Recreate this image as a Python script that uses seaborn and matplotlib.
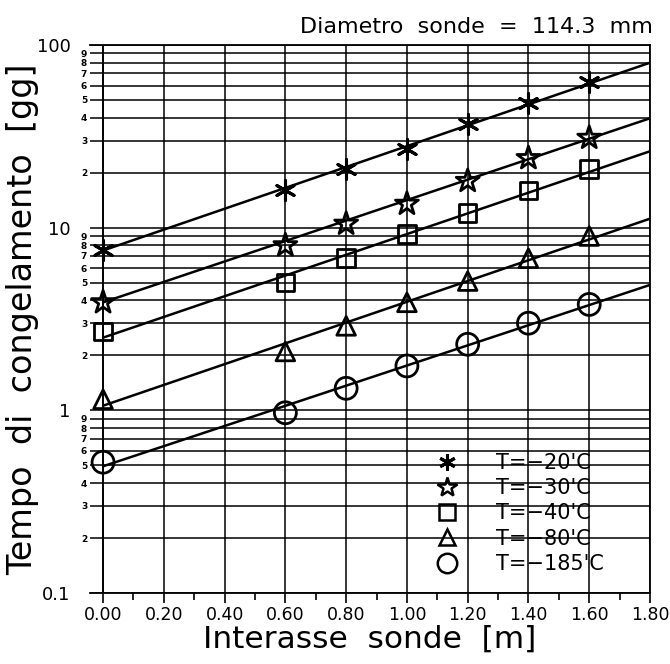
import numpy as np
import pandas as pd
import matplotlib
matplotlib.use("Agg")
import matplotlib.pyplot as plt
import seaborn as sns
from matplotlib.lines import Line2D
from matplotlib.ticker import FixedLocator, FuncFormatter

# ---- data ----
x_points = [0.0, 0.6, 0.8, 1.0, 1.2, 1.4, 1.6]
labels = ["T=\u221220'C", "T=\u221230'C", "T=\u221240'C", "T=\u221280'C", "T=\u2212185'C"]
y_m20 = [7.5, 16.0, 21.0, 27.0, 37.0, 48.0, 63.0]
y_m30 = [3.9, 8.0, 10.5, 13.5, 18.0, 24.0, 31.0]
y_m40 = [2.7, 5.0, 6.8, 9.2, 12.0, 16.0, 21.0]
y_m80 = [1.15, 2.1, 2.9, 3.9, 5.1, 6.8, 9.0]
y_m185 = [0.52, 0.97, 1.32, 1.75, 2.3, 3.0, 3.8]
# fitted straight lines (end points)
line_x = [0.0, 1.8]
line_m20 = [7.5, 80.0]
line_m30 = [3.9, 39.7]
line_m40 = [2.5, 26.2]
line_m80 = [1.06, 11.2]
line_m185 = [0.494, 4.86]
x_ticks = [0.0, 0.2, 0.4, 0.6, 0.8, 1.0, 1.2, 1.4, 1.6, 1.8]
y_major = [0.1, 1, 10, 100]
y_major_labels = ["0.1", "1", "10", "100"]

series_y = [y_m20, y_m30, y_m40, y_m80, y_m185]
series_line = [line_m20, line_m30, line_m40, line_m80, line_m185]
markers = [(6, 2, 0), "*", "s", "^", "o"]
sizes = [200, 300, 160, 180, 250]
leg_sizes = [12, 15, 11, 12, 14]

sns.set_style("white")
plt.rcParams["font.family"] = ["DejaVu Sans"]
plt.rcParams["text.color"] = "black"
plt.rcParams["axes.labelcolor"] = "black"
plt.rcParams["xtick.color"] = "black"
plt.rcParams["ytick.color"] = "black"

fig = plt.figure(figsize=(6.7, 6.64), dpi=100)
ax = fig.add_axes([90 / 670, 1 - 593 / 664, 560 / 670, 548 / 664])

for yv, lv, lab, mk, sz in zip(series_y, series_line, labels, markers, sizes):
    df_l = pd.DataFrame({"x": line_x, "y": lv})
    sns.lineplot(data=df_l, x="x", y="y", ax=ax, color="black", lw=1.8, zorder=3)
    df = pd.DataFrame({"x": x_points, "y": yv})
    if mk == (6, 2, 0):
        sns.scatterplot(data=df, x="x", y="y", ax=ax, marker=mk, s=sz,
                        color="black", edgecolor="black", linewidth=2.2, zorder=4)
    else:
        sns.scatterplot(data=df, x="x", y="y", ax=ax, marker=mk, s=sz,
                        facecolor="none", edgecolor="black", linewidth=2.0, zorder=4)

ax.set_yscale("log")
ax.set_xlim(-0.043, 1.8)
ax.set_ylim(0.1, 100)

ax.set_xticks(x_ticks)
ax.set_xticklabels([f"{v:.2f}" for v in x_ticks], fontsize=12.5)
ax.xaxis.set_minor_locator(FixedLocator(np.arange(0.1, 1.8, 0.2)))
ax.tick_params(axis="x", which="major", direction="out", length=7, width=1.2,
               color="black", bottom=True, pad=2)
ax.tick_params(axis="x", which="minor", direction="out", length=5, width=1.2,
               color="black", bottom=True)

ax.yaxis.set_major_locator(FixedLocator(y_major))
ax.set_yticklabels(y_major_labels, fontsize=13)
minor_vals = [d * m for d in [0.1, 1, 10] for m in range(2, 10)]
ax.yaxis.set_minor_locator(FixedLocator(minor_vals))
ax.yaxis.set_minor_formatter(FuncFormatter(
    lambda v, p: str(int(round(v / 10 ** np.floor(np.log10(v) + 1e-9))))))
ax.tick_params(axis="y", which="major", length=0, pad=14)
ax.tick_params(axis="y", which="minor", length=0, pad=2, labelsize=6.5)
for t in ax.get_yticklabels(minor=True):
    t.set_fontweight("bold")

ax.grid(True, which="both", axis="y", color="black", lw=1.1)
ax.grid(True, which="major", axis="x", color="black", lw=1.1)
ax.axvline(0.0, color="black", lw=1.3, zorder=2)

for s in ["top", "right", "bottom"]:
    ax.spines[s].set_visible(True)
    ax.spines[s].set_color("black")
    ax.spines[s].set_linewidth(1.3)
ax.spines["left"].set_visible(False)

ax.set_xlabel("Interasse  sonde  [m]", fontsize=22.5, labelpad=1)
ax.set_ylabel("Tempo  di  congelamento  [gg]", fontsize=24, labelpad=4)
ax.yaxis.set_label_coords(-0.09, 0.5)
fig.text(0.975, 0.975, "Diametro  sonde  =  114.3  mm", fontsize=16,
         ha="right", va="top")

handles = []
for mk, ms in zip(markers, leg_sizes):
    if mk == (6, 2, 0):
        handles.append(Line2D([], [], ls="none", marker=mk, markersize=ms,
                              color="black", mew=2.2))
    else:
        handles.append(Line2D([], [], ls="none", marker=mk, markersize=ms,
                              mfc="none", mec="black", mew=1.8))
leg = ax.legend(handles, labels, loc="lower left", bbox_to_anchor=(0.61, 0.035),
                frameon=False, fontsize=15, handlelength=1.5, handletextpad=1.6,
                labelspacing=0.25, borderpad=0, borderaxespad=0)
leg.set_zorder(5)

fig.savefig("out.png", dpi=100)
